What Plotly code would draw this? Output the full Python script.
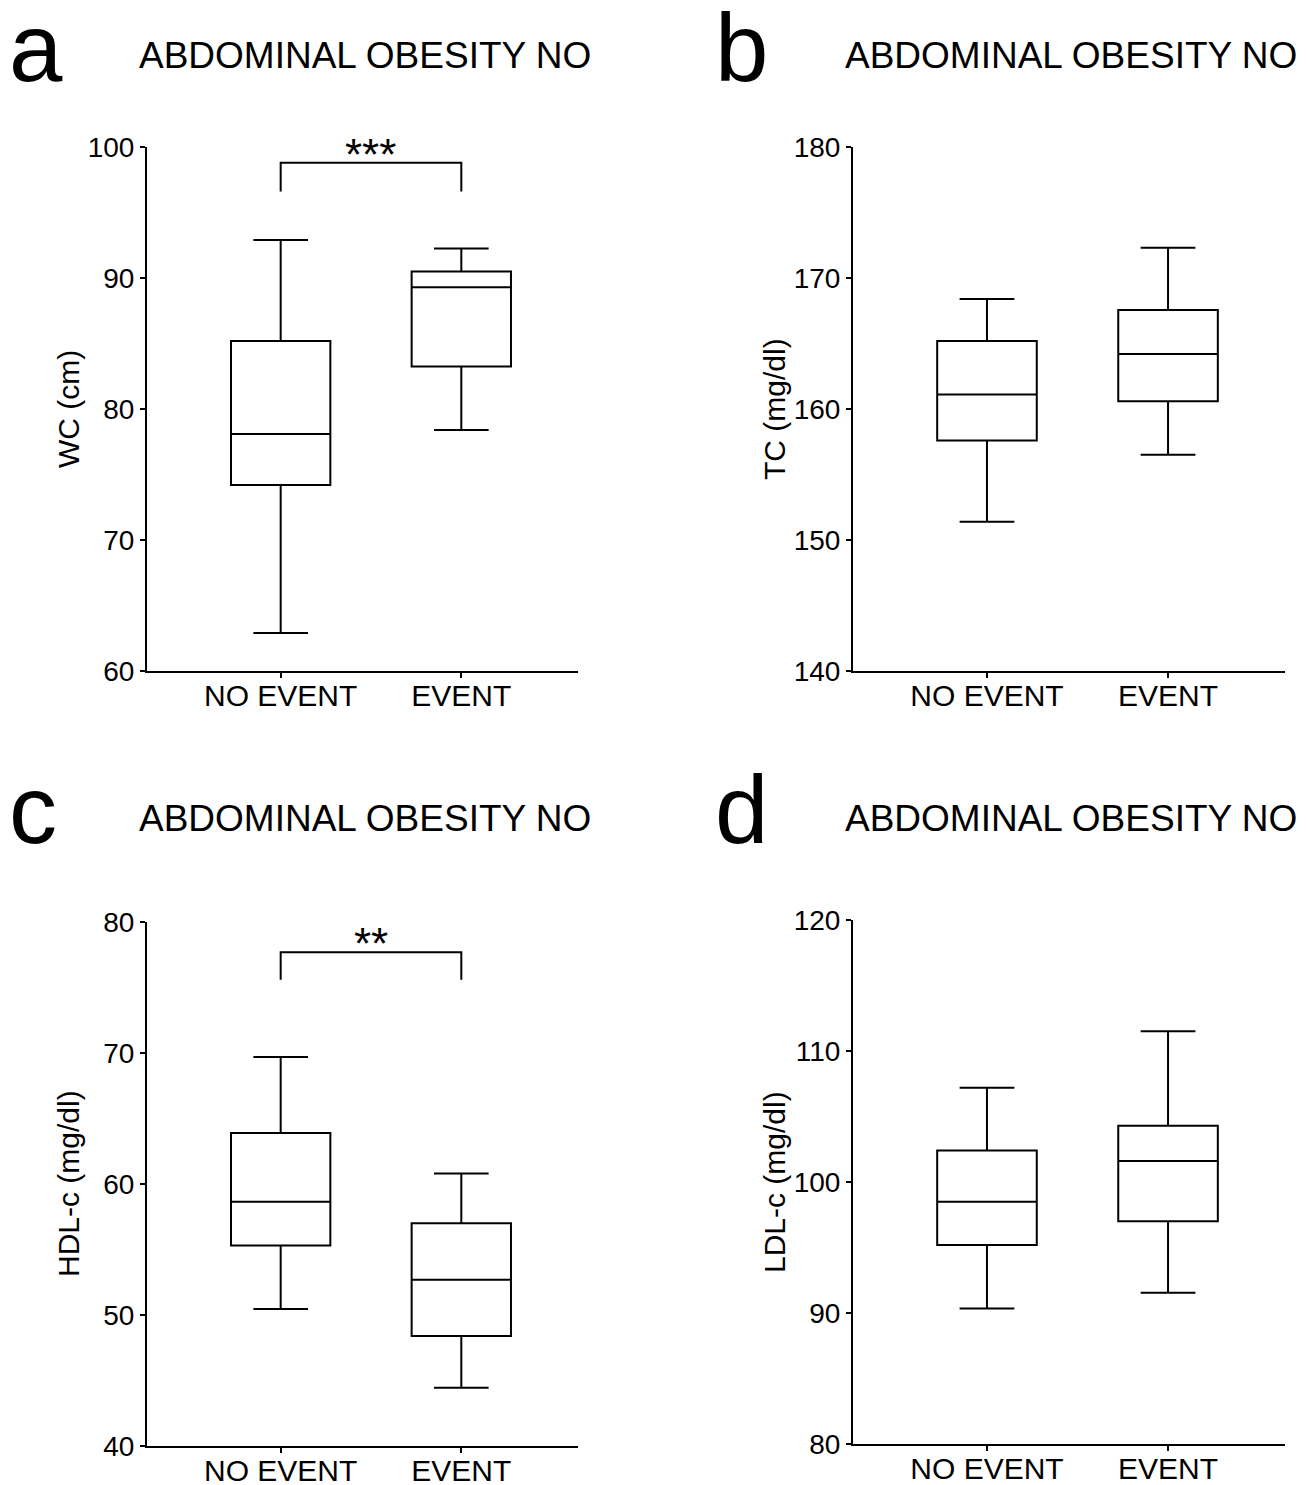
import plotly.graph_objects as go

# ---------------- data ----------------
categories = ["NO EVENT", "EVENT"]

wc_lower = [62.9, 78.4]
wc_q1 = [74.2, 83.25]
wc_median = [78.1, 89.3]
wc_q3 = [85.2, 90.5]
wc_upper = [92.9, 92.25]

tc_lower = [151.4, 156.5]
tc_q1 = [157.6, 160.6]
tc_median = [161.1, 164.2]
tc_q3 = [165.2, 167.55]
tc_upper = [168.4, 172.3]

hdl_lower = [50.45, 44.45]
hdl_q1 = [55.3, 48.4]
hdl_median = [58.65, 52.7]
hdl_q3 = [63.9, 57.0]
hdl_upper = [69.7, 60.8]

ldl_lower = [90.35, 91.55]
ldl_q1 = [95.2, 97.0]
ldl_median = [98.5, 101.6]
ldl_q3 = [102.4, 104.3]
ldl_upper = [107.2, 111.5]

panel_letters = ["a", "b", "c", "d"]
panel_title = "ABDOMINAL OBESITY NO"
y_titles = ["WC (cm)", "TC (mg/dl)", "HDL-c (mg/dl)", "LDL-c (mg/dl)"]
y_ranges = [[60, 100], [140, 180], [40, 80], [80, 120]]

# ---------------- layout geometry ----------------
OFF = 8                      # page body margin
W, H = 1310 - OFF, 1485 - OFF
FONT = "Liberation Sans, Arial, Helvetica, sans-serif"

# pixel boxes (left, right, top, bottom) of each plotting area, in window pixels
px_boxes = [
    (147, 578, 147, 671),
    (853, 1285, 147, 671),
    (147, 578, 922, 1446),
    (853, 1285, 920, 1444),
]

def px(x):
    return (x - OFF) / W

def py(y):
    return 1 - (y - OFF) / H

fig = go.Figure()

stats = [
    (wc_lower, wc_q1, wc_median, wc_q3, wc_upper),
    (tc_lower, tc_q1, tc_median, tc_q3, tc_upper),
    (hdl_lower, hdl_q1, hdl_median, hdl_q3, hdl_upper),
    (ldl_lower, ldl_q1, ldl_median, ldl_q3, ldl_upper),
]

for i, (lo, q1, med, q3, up) in enumerate(stats):
    ax = "" if i == 0 else str(i + 1)
    fig.add_trace(go.Box(
        x=categories, lowerfence=lo, q1=q1, median=med, q3=q3, upperfence=up,
        xaxis="x" + ax, yaxis="y" + ax,
        fillcolor="white", line=dict(color="black", width=2),
        width=0.55, whiskerwidth=0.55, boxpoints=False, showlegend=False,
        hoverinfo="y",
    ))

annotations = []
shapes = []
for i in range(4):
    l, r, t, b = px_boxes[i]
    ax = "" if i == 0 else str(i + 1)
    fig.layout["xaxis" + ax] = dict(
        domain=[px(l), px(r)], anchor="y" + ax, type="category",
        categoryorder="array", categoryarray=categories, automargin=False,
        range=[-0.74, 1.646], showline=True, linecolor="black", linewidth=2,
        ticks="outside", ticklen=5, tickwidth=2, tickcolor="black",
        ticklabelstandoff=-8,
        showgrid=False, zeroline=False, fixedrange=True,
        tickfont=dict(family=FONT, size=30, color="black"),
    )
    fig.layout["yaxis" + ax] = dict(
        domain=[py(b), py(t)], anchor="x" + ax, range=y_ranges[i], dtick=10,
        automargin=False,
        showline=True, linecolor="black", linewidth=2,
        ticks="outside", ticklen=5, tickwidth=2, tickcolor="black",
        showgrid=False, zeroline=False, fixedrange=True,
        tickfont=dict(family=FONT, size=28, color="black"),
    )
    # y title
    annotations.append(dict(
        text=y_titles[i], xref="paper", yref="paper",
        x=px(l - 79), y=py((t + b) / 2), textangle=-90,
        xanchor="center", yanchor="middle", showarrow=False,
        font=dict(family=FONT, size=30, color="black"),
    ))
    # panel letter
    top = 0 if i < 2 else 762
    annotations.append(dict(
        text=panel_letters[i], xref="paper", yref="paper",
        x=px(l - 140), y=py(top + 47),
        xanchor="left", yanchor="middle", showarrow=False,
        font=dict(family=FONT, size=96, color="black"),
    ))
    # panel title
    annotations.append(dict(
        text=panel_title, xref="paper", yref="paper",
        x=px(l - 10), y=py(top + 56),
        xanchor="left", yanchor="middle", showarrow=False,
        font=dict(family=FONT, size=37, color="black"),
    ))

# significance brackets
sig = [("", 96.6, 98.8, "***"), ("3", 75.6, 77.7, "**")]
for ax, ylo, yhi, txt in sig:
    shapes.append(dict(
        type="path", xref="x" + ax, yref="y" + ax,
        path=f"M 0 {ylo} L 0 {yhi} L 1 {yhi} L 1 {ylo}",
        line=dict(color="black", width=2),
    ))
    annotations.append(dict(
        text=txt, xref="x" + ax, yref="y" + ax, x=0.5, y=yhi,
        xanchor="center", yanchor="bottom", yshift=-18, showarrow=False,
        font=dict(family=FONT, size=44, color="black"),
    ))

fig.update_layout(
    template="none",
    width=W, height=H, margin=dict(l=0, r=0, t=0, b=0, pad=0),
    paper_bgcolor="white", plot_bgcolor="white",
    annotations=annotations, shapes=shapes,
    font=dict(family=FONT, color="black"),
)

fig.write_html("out.html")
